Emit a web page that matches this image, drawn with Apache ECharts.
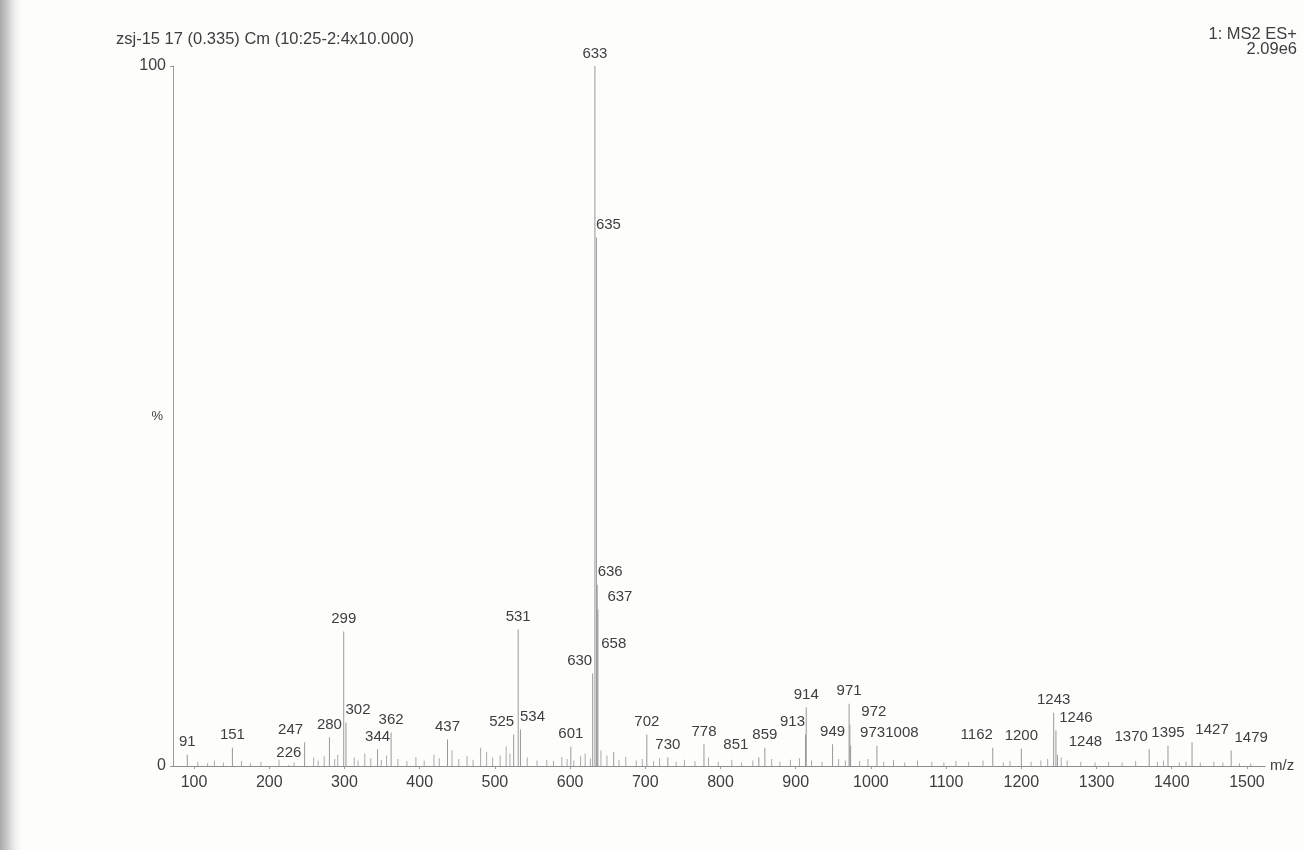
<!DOCTYPE html>
<html>
<head>
<meta charset="utf-8">
<script src="https://cdn.jsdelivr.net/npm/echarts@6/dist/echarts.min.js"></script>
<style>
  html, body { margin: 0; padding: 0; background: #fdfdfc; }
  #main { width: 1303px; height: 850px; }
</style>
</head>
<body>
<div id="main"></div>
<script>
// labelled peaks: m/z and relative intensity (%)
const peakMz = [91, 151, 226, 247, 280, 299, 302, 344, 362, 437, 525, 531, 534, 601, 630, 633, 635, 636, 637, 658,
  702, 730, 778, 851, 859, 913, 914, 949, 971, 972, 973, 1008, 1162, 1200, 1243, 1246, 1248, 1370, 1395, 1427, 1479];
const peakPct = [1.6, 2.6, 0.1, 3.4, 4.1, 19.2, 6.2, 2.4, 4.8, 3.8, 4.5, 19.5, 5.2, 2.8, 13.2, 100, 75.5, 25.9, 22.4, 2.0,
  4.5, 1.2, 3.1, 1.2, 2.6, 4.5, 8.4, 3.1, 8.9, 5.9, 2.9, 2.9, 2.6, 2.5, 7.6, 5.1, 1.6, 2.4, 2.9, 3.4, 2.2];

// small unlabelled peaks along the baseline
const minorMz = [105, 118, 127, 139, 163, 175, 189, 213, 233, 259, 265, 273, 287, 291, 313, 318, 327, 335, 349, 356,
  371, 383, 395, 406, 419, 426, 443, 452, 463, 471, 481, 489, 497, 507, 515, 520, 543, 556, 569, 578,
  589, 596, 605, 614, 620, 627, 641, 649, 665, 674, 688, 696, 711, 719, 741, 752, 766, 784, 797, 815,
  828, 843, 868, 879, 893, 905, 921, 935, 957, 966, 985, 996, 1017, 1030, 1045, 1062, 1081, 1097, 1113, 1130,
  1149, 1176, 1185, 1213, 1226, 1235, 1253, 1261, 1279, 1298, 1316, 1334, 1352, 1381, 1389, 1410, 1419, 1438, 1456, 1468, 1490, 1505];
const minorPct = [0.6, 0.4, 0.8, 0.5, 0.7, 0.4, 0.6, 0.9, 0.5, 1.2, 0.8, 1.4, 1.0, 1.6, 1.2, 0.8, 1.8, 1.1, 0.9, 1.5,
  1.0, 0.7, 1.3, 0.8, 1.6, 1.1, 2.2, 1.0, 1.4, 0.9, 2.6, 2.0, 1.2, 1.5, 2.8, 1.8, 1.2, 0.8, 0.9, 0.7,
  1.3, 1.0, 0.8, 1.4, 1.8, 1.1, 2.2, 1.5, 0.9, 1.3, 0.8, 1.0, 0.7, 1.1, 0.6, 0.9, 0.7, 1.2, 0.6, 0.9,
  0.5, 0.8, 1.0, 0.6, 0.9, 1.1, 0.8, 0.6, 1.0, 0.8, 0.7, 1.0, 0.6, 0.9, 0.5, 0.8, 0.6, 0.5, 0.7, 0.6,
  0.8, 0.5, 0.7, 0.6, 0.8, 1.0, 1.2, 0.8, 0.6, 0.5, 0.6, 0.5, 0.7, 0.6, 0.8, 0.5, 0.6, 0.5, 0.6, 0.5, 0.4, 0.4];

const xTicks = [100, 200, 300, 400, 500, 600, 700, 800, 900, 1000, 1100, 1200, 1300, 1400, 1500];
const yTicks = [0, 100];

// labels pushed aside the way the printout does it (px)
const labelShift = {
  247: [-14, 0], 302: [12, 0], 525: [-12, 0], 534: [12, 0], 630: [-13, 0], 635: [12, 0], 636: [13, 0],
  637: [22, 0], 658: [0, -96], 851: [-23, 0], 913: [-13, 0], 972: [24, 0], 973: [22, 0], 1008: [25, 0],
  1162: [-16, 0], 1246: [20, 0], 1248: [28, 0], 1370: [-18, 0], 1427: [20, 0], 1479: [20, 0]
};

const FONT = '"Liberation Sans", Arial, sans-serif';
const TXT = '#3e3e3e';

const chart = echarts.init(document.getElementById('main'));

const peakData = peakMz.map((mz, i) => {
  const item = { value: [mz, peakPct[i]] };
  if (labelShift[mz]) item.label = { offset: labelShift[mz] };
  return item;
});
const minorData = minorMz.map((mz, i) => [mz, minorPct[i]]);

chart.setOption({
  backgroundColor: '#fdfdfc',
  animation: false,
  graphic: [
    // scanner shadow on the left edge
    {
      type: 'rect', left: 0, top: 0, z: -10,
      shape: { width: 24, height: 850 },
      style: {
        fill: new echarts.graphic.LinearGradient(0, 0, 1, 0, [
          { offset: 0, color: '#a9a9a9' },
          { offset: 0.4, color: '#d6d6d6' },
          { offset: 1, color: 'rgba(253,253,252,0)' }
        ])
      }
    },
    {
      type: 'text', left: 116, top: 31,
      style: { text: 'zsj-15 17 (0.335) Cm (10:25-2:4x10.000)', font: '16.5px ' + FONT, fill: TXT }
    },
    {
      type: 'text', right: 6, top: 26,
      style: { text: '1: MS2 ES+', font: '16.5px ' + FONT, fill: TXT }
    },
    {
      type: 'text', right: 6, top: 41,
      style: { text: '2.09e6', font: '16.5px ' + FONT, fill: TXT }
    }
  ],
  grid: { left: 173, right: 38, top: 66, bottom: 84 },
  xAxis: {
    type: 'value',
    min: 72,
    max: 1524,
    name: 'm/z',
    nameLocation: 'end',
    nameGap: 5,
    nameTextStyle: { color: TXT, fontSize: 15, fontFamily: FONT, padding: [0, 0, 6, 0] },
    axisLine: { lineStyle: { color: '#8c8c8c', width: 1 } },
    axisTick: { show: true, length: 3, customValues: xTicks, lineStyle: { color: '#9a9a9a' } },
    axisLabel: {
      customValues: xTicks, color: TXT, fontSize: 16, fontFamily: FONT, margin: 9,
      formatter: v => String(v)
    },
    splitLine: { show: false }
  },
  yAxis: {
    type: 'value',
    min: 0,
    max: 100,
    name: '%',
    nameLocation: 'middle',
    nameGap: 10,
    nameRotate: 0,
    nameMoveOverlap: false,
    nameTextStyle: { color: TXT, fontSize: 13, fontFamily: FONT },
    axisLine: { show: true, lineStyle: { color: '#9a9a9a', width: 1 } },
    axisTick: { show: true, length: 3, customValues: yTicks, lineStyle: { color: '#9a9a9a' } },
    axisLabel: { customValues: yTicks, color: TXT, fontSize: 16, fontFamily: FONT, margin: 7 },
    splitLine: { show: false }
  },
  series: [
    {
      type: 'bar',
      name: 'minor',
      data: minorData,
      barWidth: 1,
      barGap: '-100%',
      itemStyle: { color: '#ababab' },
      silent: true
    },
    {
      type: 'bar',
      name: 'peaks',
      data: peakData,
      barWidth: 1,
      barGap: '-100%',
      itemStyle: { color: '#999999' },
      label: {
        show: true,
        position: 'top',
        distance: 5,
        color: TXT,
        fontSize: 15,
        fontFamily: FONT,
        formatter: p => String(p.value[0])
      },
      silent: true
    }
  ]
});
</script>
</body>
</html>
